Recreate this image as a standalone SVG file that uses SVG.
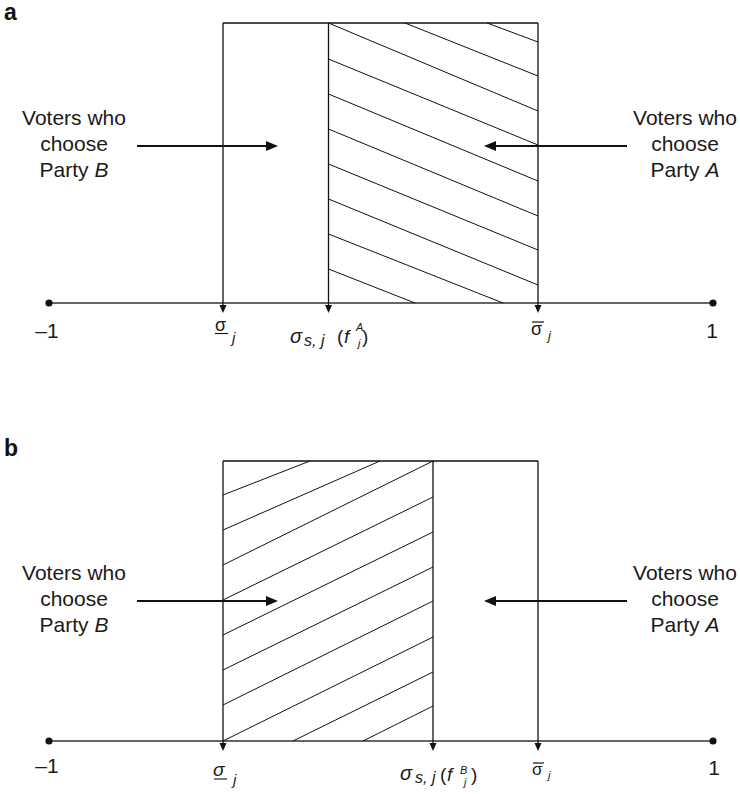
<svg xmlns="http://www.w3.org/2000/svg" width="740" height="794" viewBox="0 0 740 794">
<defs>
<style>
.t{font-family:"Liberation Sans",Arial,sans-serif;font-size:21px;fill:#1a1a1a}
.m{font-family:"Liberation Sans",Arial,sans-serif;fill:#1a1a1a}
.lbl{font-family:"Liberation Sans",Arial,sans-serif;font-size:23px;font-weight:bold;fill:#111}
.box{stroke:#111;stroke-width:1.3;fill:none}
.axis{stroke:#333;stroke-width:1.6;fill:none}
.hatch{stroke:#111;stroke-width:1;fill:none}
.arr{stroke:#111;stroke-width:1.8;fill:none}
</style>
<marker id="vt" markerUnits="userSpaceOnUse" markerWidth="8" markerHeight="8" viewBox="0 0 8 8" refX="5" refY="4" orient="auto">
<path d="M0,0.5 L8,4 L0,7.5 z" fill="#111"/>
</marker>
<marker id="ht" markerUnits="userSpaceOnUse" markerWidth="12" markerHeight="11" viewBox="0 0 12 11" refX="9" refY="5.5" orient="auto">
<path d="M0,0.5 L12,5.5 L0,10.5 z" fill="#111"/>
</marker>
</defs>
<rect width="740" height="794" fill="#fff"/>

<!-- Panel a -->
<g id="panel-a">
<text class="lbl" x="4" y="20">a</text>
<g id="a-axis">
<line class="axis" x1="49" y1="303" x2="713" y2="303"/>
<circle cx="49" cy="303" r="3.6" fill="#111"/>
<circle cx="713" cy="303" r="3.6" fill="#111"/>
<text class="t" x="47" y="338" text-anchor="middle">–1</text>
<text class="t" x="712" y="338" text-anchor="middle">1</text>
</g>
<g id="a-hatch">
<line class="hatch" x1="405" y1="23" x2="538" y2="76"/>
<line class="hatch" x1="487" y1="23" x2="538" y2="42"/>
<line class="hatch" x1="328.5" y1="23" x2="538" y2="111"/>
<line class="hatch" x1="328.5" y1="59" x2="538" y2="145"/>
<line class="hatch" x1="328.5" y1="94" x2="538" y2="181"/>
<line class="hatch" x1="328.5" y1="129" x2="538" y2="216"/>
<line class="hatch" x1="328.5" y1="164" x2="538" y2="250"/>
<line class="hatch" x1="328.5" y1="199" x2="538" y2="285"/>
<line class="hatch" x1="328.5" y1="234" x2="503" y2="303"/>
<line class="hatch" x1="328.5" y1="269" x2="415" y2="303"/>
</g>
<g id="a-box">
<line class="box" x1="223" y1="23" x2="538" y2="23"/>
<line class="box" x1="223" y1="23" x2="223" y2="310" marker-end="url(#vt)"/>
<line class="box" x1="328.5" y1="23" x2="328.5" y2="310" marker-end="url(#vt)"/>
<line class="box" x1="538" y1="23" x2="538" y2="310" marker-end="url(#vt)"/>
</g>
<g id="a-left-label">
<text class="t" text-anchor="middle"><tspan x="74" y="125">Voters who</tspan><tspan x="74" y="151">choose</tspan><tspan x="74" y="177">Party <tspan font-style="italic">B</tspan></tspan></text>
</g>
<g id="a-right-label">
<text class="t" text-anchor="middle"><tspan x="685" y="125">Voters who</tspan><tspan x="685" y="151">choose</tspan><tspan x="685" y="177">Party <tspan font-style="italic">A</tspan></tspan></text>
</g>
<g id="a-sigma-low">
<text class="m" x="215" y="331" font-size="18">σ</text>
<line x1="215" y1="333.5" x2="228" y2="333.5" stroke="#111" stroke-width="1.1"/>
<text class="m" x="232" y="343" font-size="15" font-style="italic">j</text>
</g>
<g id="a-sigma-s">
<text class="m" x="290" y="343" font-size="20" font-style="italic">σ</text>
<text class="m" x="304" y="346" font-size="16" font-style="italic">s, j</text>
<text class="m" x="337" y="343" font-size="19">(</text>
<text class="m" x="344" y="343" font-size="19" font-style="italic">f</text>
<text class="m" x="356" y="331" font-size="11" font-style="italic">A</text>
<text class="m" x="358" y="347" font-size="11" font-style="italic">j</text>
<text class="m" x="362" y="343" font-size="19">)</text>
</g>
<g id="a-sigma-high">
<line x1="532" y1="322" x2="544" y2="322" stroke="#111" stroke-width="1.2"/>
<text class="m" x="531" y="335" font-size="18">σ</text>
<text class="m" x="548" y="340" font-size="13" font-style="italic">j</text>
</g>
</g>

<!-- Panel b -->
<g id="panel-b">
<text class="lbl" x="4" y="456">b</text>
<g id="b-axis">
<line class="axis" x1="49" y1="741" x2="713" y2="741"/>
<circle cx="49" cy="741" r="3.6" fill="#111"/>
<circle cx="713" cy="741" r="3.6" fill="#111"/>
<text class="t" x="47" y="773" text-anchor="middle">–1</text>
<text class="t" x="714" y="775" text-anchor="middle">1</text>
</g>
<g id="b-hatch">
<line class="hatch" x1="223" y1="495" x2="310" y2="461"/>
<line class="hatch" x1="223" y1="530" x2="380" y2="461"/>
<line class="hatch" x1="223" y1="565" x2="433" y2="461"/>
<line class="hatch" x1="223" y1="600" x2="433" y2="497"/>
<line class="hatch" x1="223" y1="635" x2="433" y2="532"/>
<line class="hatch" x1="223" y1="670" x2="433" y2="567"/>
<line class="hatch" x1="223" y1="705" x2="433" y2="601"/>
<line class="hatch" x1="223" y1="741" x2="433" y2="637"/>
<line class="hatch" x1="293" y1="741" x2="433" y2="672"/>
<line class="hatch" x1="363" y1="741" x2="433" y2="706"/>
</g>
<g id="b-box">
<line class="box" x1="223" y1="461" x2="538" y2="461"/>
<line class="box" x1="223" y1="461" x2="223" y2="748" marker-end="url(#vt)"/>
<line class="box" x1="433" y1="461" x2="433" y2="748" marker-end="url(#vt)"/>
<line class="box" x1="538" y1="461" x2="538" y2="748" marker-end="url(#vt)"/>
</g>
<g id="b-left-label">
<text class="t" text-anchor="middle"><tspan x="74" y="580">Voters who</tspan><tspan x="74" y="606">choose</tspan><tspan x="74" y="632">Party <tspan font-style="italic">B</tspan></tspan></text>
</g>
<g id="b-right-label">
<text class="t" text-anchor="middle"><tspan x="685" y="580">Voters who</tspan><tspan x="685" y="606">choose</tspan><tspan x="685" y="632">Party <tspan font-style="italic">A</tspan></tspan></text>
</g>
<g id="b-sigma-low">
<text class="m" x="213" y="776" font-size="19" font-style="italic">σ</text>
<line x1="214" y1="779" x2="227" y2="779" stroke="#111" stroke-width="1.1"/>
<text class="m" x="233" y="785" font-size="15" font-style="italic">j</text>
</g>
<g id="b-sigma-s">
<text class="m" x="400" y="780" font-size="20" font-style="italic">σ</text>
<text class="m" x="415" y="783" font-size="16" font-style="italic">s, j</text>
<text class="m" x="440" y="781" font-size="19">(</text>
<text class="m" x="447" y="781" font-size="19" font-style="italic">f</text>
<text class="m" x="460" y="774" font-size="11" font-style="italic">B</text>
<text class="m" x="464" y="786" font-size="11" font-style="italic">j</text>
<text class="m" x="471" y="781" font-size="19">)</text>
</g>
<g id="b-sigma-high">
<line x1="533" y1="763" x2="544" y2="763" stroke="#111" stroke-width="1.2"/>
<text class="m" x="532" y="775" font-size="17">σ</text>
<text class="m" x="548" y="779" font-size="11" font-style="italic">j</text>
</g>
</g>

<g id="connectors">
<line class="arr" x1="137" y1="146" x2="275" y2="146" marker-end="url(#ht)"/>
<line class="arr" x1="627" y1="146" x2="487" y2="146" marker-end="url(#ht)"/>
<line class="arr" x1="137" y1="601" x2="275" y2="601" marker-end="url(#ht)"/>
<line class="arr" x1="627" y1="601" x2="487" y2="601" marker-end="url(#ht)"/>
</g>
</svg>
